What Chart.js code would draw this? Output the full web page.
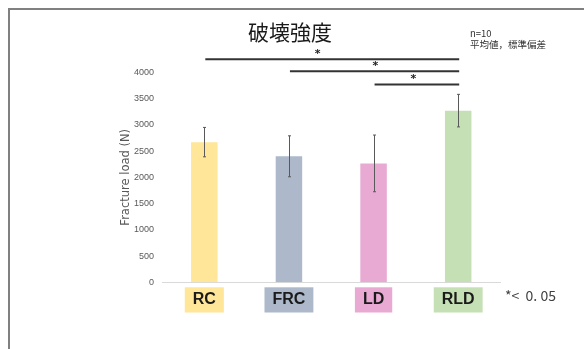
<!DOCTYPE html>
<html>
<head>
<meta charset="utf-8">
<script src="https://cdn.jsdelivr.net/npm/chart.js@4/dist/chart.umd.min.js"></script>
<style>
  html, body { margin: 0; padding: 0; background: #fff; overflow: hidden; }
  #wrap { width: 584px; height: 349px; }
  #c { display: block; }
</style>
</head>
<body>
<div id="wrap"><canvas id="c" width="584" height="349"></canvas></div>
<script>
// Groups and measured fracture load (mean ± SD, n=10)
const categories = ['RC', 'FRC', 'LD', 'RLD'];
const meanLoad = [2670, 2400, 2265, 3270];
const sdLoad = [280, 390, 540, 310];
const yTicks = [0, 500, 1000, 1500, 2000, 2500, 3000, 3500, 4000];

// Significant pairs (index pairs) marked with *
const sigPairs = [[0, 3], [1, 3], [2, 3]];

const barColors = ['#FFE699', '#ADB9CA', '#E8A9D3', '#C5E0B4'];

// Bracket heights (in N) and star positions (category units) for the significance marks
const sigLevels = [4250, 4020, 3770];
const sigStarAt = [1.34, 2.02, 2.47];

const frame = {
  id: 'frame',
  beforeDraw(chart) {
    const ctx = chart.ctx;
    ctx.save();
    ctx.fillStyle = '#fff';
    ctx.fillRect(0, 0, chart.width, chart.height);
    ctx.strokeStyle = '#808080';
    ctx.lineWidth = 2;
    ctx.beginPath();
    ctx.moveTo(9, chart.height + 2);
    ctx.lineTo(9, 9);
    ctx.lineTo(chart.width + 2, 9);
    ctx.stroke();
    ctx.restore();
  }
};

const extras = {
  id: 'extras',
  afterDatasetsDraw(chart) {
    const ctx = chart.ctx;
    const x = chart.scales.x, y = chart.scales.y;
    ctx.save();
    // error bars
    ctx.strokeStyle = '#595959';
    ctx.lineWidth = 1;
    meanLoad.forEach((m, i) => {
      const cx = Math.round(x.getPixelForValue(i)) + 0.5;
      const top = y.getPixelForValue(m + sdLoad[i]);
      const bot = y.getPixelForValue(m - sdLoad[i]);
      ctx.beginPath();
      ctx.moveTo(cx, top); ctx.lineTo(cx, bot);
      ctx.moveTo(cx - 1.5, top); ctx.lineTo(cx + 1.5, top);
      ctx.moveTo(cx - 1.5, bot); ctx.lineTo(cx + 1.5, bot);
      ctx.stroke();
    });
    // significance brackets
    ctx.strokeStyle = '#333';
    ctx.fillStyle = '#222';
    ctx.lineWidth = 2;
    ctx.font = 'bold 11px "DejaVu Sans", sans-serif';
    ctx.textAlign = 'center';
    ctx.textBaseline = 'middle';
    sigPairs.forEach((p, k) => {
      const yy = y.getPixelForValue(sigLevels[k]);
      ctx.beginPath();
      ctx.moveTo(x.getPixelForValue(p[0]) + 1, yy);
      ctx.lineTo(x.getPixelForValue(p[1]) + 1, yy);
      ctx.stroke();
      ctx.fillText('*', x.getPixelForValue(sigStarAt[k]), yy - 5);
    });
    // title and notes
    ctx.fillStyle = '#1a1a1a';
    ctx.font = '21px "Noto Sans CJK JP", sans-serif';
    ctx.fillText('破壊強度', 290, 32);
    ctx.textAlign = 'left';
    ctx.fillStyle = '#333';
    ctx.font = '9.5px "Noto Sans CJK JP", sans-serif';
    ctx.fillText('n=10', 470, 33);
    ctx.fillText('平均値，標準偏差', 470, 44.5);
    ctx.font = '14px "Noto Sans CJK JP", sans-serif';
    ctx.fillStyle = '#404040';
    ctx.fillText('*<  0. 05', 505, 296);
    ctx.restore();
  }
};

new Chart(document.getElementById('c'), {
  type: 'bar',
  data: {
    labels: categories,
    datasets: [{
      data: meanLoad,
      backgroundColor: barColors,
      borderWidth: 0,
      barPercentage: 0.313,
      categoryPercentage: 1
    }]
  },
  options: {
    responsive: false,
    animation: false,
    events: [],
    layout: { padding: { left: 100, right: 83.5, top: 72.3, bottom: 26.7 } },
    plugins: { legend: { display: false }, tooltip: { enabled: false } },
    scales: {
      x: {
        grid: { display: false, drawTicks: false },
        border: { display: true, color: '#d9d9d9', width: 1 },
        afterFit(s) { s.height = 40; },
        ticks: {
          padding: 8,
          color: '#1a1a1a',
          font: { family: '"Liberation Sans", Arial, sans-serif', size: 16, weight: 'bold' },
          showLabelBackdrop: true,
          backdropColor: (ctx) => barColors[ctx.index],
          backdropPadding: { x: 8, y: 3 }
        }
      },
      y: {
        min: 0,
        max: 4000,
        afterFit(s) { s.width = 62; },
        afterBuildTicks(s) { s.ticks = yTicks.map(v => ({ value: v })); },
        grid: { display: false, drawTicks: false },
        border: { display: false },
        ticks: {
          padding: 8,
          color: '#595959',
          font: { family: '"Liberation Sans", Arial, sans-serif', size: 9 },
          callback: (v) => String(v)
        },
        title: {
          display: true,
          text: 'Fracture load (N)',
          color: '#595959',
          padding: { top: 19.5, bottom: 0 },
          font: { family: '"DejaVu Sans", sans-serif', size: 11.5 }
        }
      }
    }
  },
  plugins: [frame, extras]
});
</script>
</body>
</html>
